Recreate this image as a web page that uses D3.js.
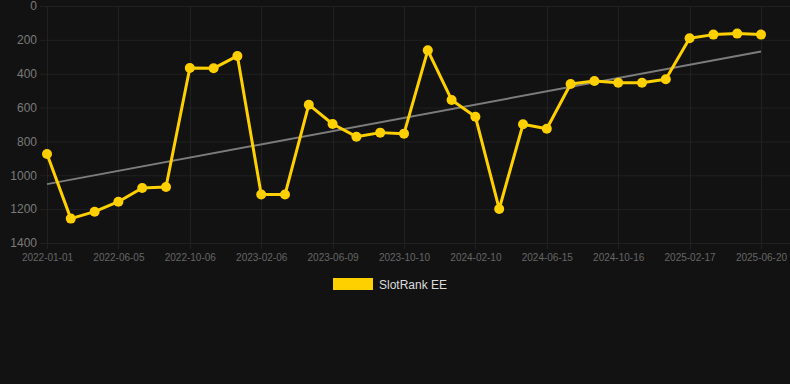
<!DOCTYPE html>
<html>
<head>
<meta charset="utf-8">
<script src="https://cdn.jsdelivr.net/npm/d3@7"></script>
<style>
  html, body { margin: 0; padding: 0; background: #121212; }
  svg { display: block; font-family: "Liberation Sans", Arial, sans-serif; }
</style>
</head>
<body>
<div id="chart"></div>
<script>
// categories (only every 3rd one is shown on the axis)
const dates = [
  "2022-01-01", "2022-02-21", "2022-04-13", "2022-06-05", "2022-07-16", "2022-08-26",
  "2022-10-06", "2022-11-16", "2022-12-27", "2023-02-06", "2023-03-19", "2023-04-29",
  "2023-06-09", "2023-07-20", "2023-08-30", "2023-10-10", "2023-11-20", "2023-12-31",
  "2024-02-10", "2024-03-22", "2024-05-04", "2024-06-15", "2024-07-26", "2024-09-05",
  "2024-10-16", "2024-11-26", "2025-01-06", "2025-02-17", "2025-03-30", "2025-05-10",
  "2025-06-20"
];
const rank = [
  874, 1256, 1215, 1156, 1075, 1069,
  366, 368, 295, 1114, 1114, 583,
  697, 772, 748, 754, 262, 555,
  654, 1199, 699, 725, 461, 443,
  453, 453, 433, 191, 169, 163,
  169
];
const yTicks = [0, 200, 400, 600, 800, 1000, 1200, 1400];
const seriesName = "SlotRank EE";

const width = 790, height = 384;
const margin = { top: 6, right: 29, bottom: 141, left: 47 };

const svg = d3.select("#chart")
  .append("svg")
  .attr("width", width)
  .attr("height", height);

svg.append("rect")
  .attr("width", width)
  .attr("height", height)
  .attr("fill", "#121212");

// scales
const x = d3.scalePoint()
  .domain(dates)
  .range([margin.left, width - margin.right]);

const y = d3.scaleLinear()
  .domain([0, 1400])
  .range([margin.top, height - margin.bottom]);

// grid
const gridColor = "#212121";
svg.append("g")
  .selectAll("line")
  .data(yTicks)
  .enter()
  .append("line")
  .attr("x1", margin.left - 7)
  .attr("x2", width)
  .attr("y1", (d) => y(d) + 0.5)
  .attr("y2", (d) => y(d) + 0.5)
  .attr("stroke", gridColor);

const xTickVals = dates.filter((d, i) => i % 3 === 0);
svg.append("g")
  .selectAll("line")
  .data(xTickVals)
  .enter()
  .append("line")
  .attr("x1", (d) => Math.round(x(d)) + 0.5)
  .attr("x2", (d) => Math.round(x(d)) + 0.5)
  .attr("y1", margin.top)
  .attr("y2", y(1400) + 6)
  .attr("stroke", gridColor);

// axes
const yAxis = svg.append("g")
  .attr("transform", `translate(${margin.left - 10}, 0)`)
  .call(d3.axisLeft(y).tickValues(yTicks).tickFormat(d3.format("d")).tickSize(0).tickPadding(0));
yAxis.select(".domain").remove();
yAxis.selectAll("text")
  .attr("fill", "#7a7a7a")
  .style("font-size", "12px")
  .style("font-family", "Liberation Sans, Arial, sans-serif");

const xAxis = svg.append("g")
  .attr("transform", `translate(0, ${y(1400)})`)
  .call(d3.axisBottom(x).tickValues(xTickVals).tickSize(0).tickPadding(11));
xAxis.select(".domain").remove();
xAxis.selectAll("text")
  .attr("fill", "#666")
  .style("font-size", "10px")
  .style("font-family", "Liberation Sans, Arial, sans-serif");

// trend line (least squares over the series)
const n = rank.length;
const xs = d3.range(n);
const mx = d3.mean(xs), my = d3.mean(rank);
const slope = d3.sum(xs, (i) => (i - mx) * (rank[i] - my)) / d3.sum(xs, (i) => (i - mx) * (i - mx));
const icpt = my - slope * mx;
svg.append("line")
  .attr("x1", x(dates[0]))
  .attr("y1", y(icpt))
  .attr("x2", x(dates[n - 1]))
  .attr("y2", y(icpt + slope * (n - 1)))
  .attr("stroke", "#7c7c7c")
  .attr("stroke-width", 2);

// series line
const lineColor = "#ffd000";
const line = d3.line()
  .x((d, i) => x(dates[i]))
  .y((d) => y(d));

svg.append("path")
  .datum(rank)
  .attr("d", line)
  .attr("fill", "none")
  .attr("stroke", lineColor)
  .attr("stroke-width", 3)
  .attr("stroke-linejoin", "round");

svg.append("g")
  .selectAll("circle")
  .data(rank)
  .enter()
  .append("circle")
  .attr("cx", (d, i) => x(dates[i]))
  .attr("cy", (d) => y(d))
  .attr("r", 5)
  .attr("fill", lineColor);

// legend
const legend = svg.append("g")
  .attr("transform", "translate(333, 278)");
legend.append("rect")
  .attr("width", 40)
  .attr("height", 12)
  .attr("fill", lineColor);
legend.append("text")
  .attr("x", 46)
  .attr("y", 10.5)
  .attr("fill", "#dcdcdc")
  .style("font-size", "12px")
  .text(seriesName);
</script>
</body>
</html>
